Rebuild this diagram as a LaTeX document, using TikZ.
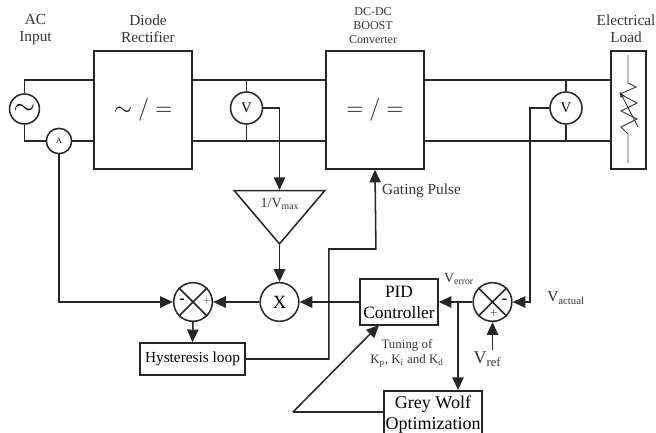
\documentclass[tikz,border=0pt]{standalone}
\usepackage{amsmath, amssymb}
\usepackage{fontspec}
\setmainfont{Liberation Serif}
\usetikzlibrary{arrows.meta, positioning, shapes, calc}
\tikzset{
    wire/.style={line width=1.15pt, draw=black!85},
    sig/.style={wire, -{Triangle[length=9.5pt, width=8.5pt]}},
    block/.style={rectangle, draw=black!85, line width=1.15pt, inner sep=0pt},
    meter/.style={circle, draw=black!85, line width=1.15pt, fill=white, inner sep=0pt},
    lbl/.style={text=black!80, align=center, inner sep=0pt, font=\fontsize{11.5}{12.75}\selectfont}
}
\begin{document}
\begin{tikzpicture}[x=0.75pt, y=-0.75pt]
    \useasboundingbox (0,0) rectangle (656,432);
    \clip (0,0) rectangle (656,432);

    % Power stage blocks
    \node (rect) [block, minimum width=73.5pt, minimum height=88.5pt] at (143,110) {\fontsize{18.5}{22}\selectfont $\sim/=$};
    \node (boost) [block, minimum width=73.5pt, minimum height=88.5pt] at (375,110) {\fontsize{18.5}{22}\selectfont $=/=$};
    \node (load) [block, minimum width=26.25pt, minimum height=88.5pt] at (628.5,110) {};

    % Meters and source
    \node (src) [meter, minimum size=22.5pt] at (24.5,109) {\fontsize{20}{20}\selectfont $\sim$};
    \node (amp) [meter, minimum size=19pt] at (59,141) {\fontsize{6}{7}\selectfont A};
    \node (vin) [meter, minimum size=24pt] at (246.5,108) {\fontsize{11}{12}\selectfont V};
    \node (vout) [meter, minimum size=24pt] at (566,108) {\fontsize{11}{12}\selectfont V};

    % Control blocks
    \node (gain) [isosceles triangle, shape border rotate=-90, isosceles triangle apex angle=81, isosceles triangle stretches, draw=black!85, line width=1.15pt, minimum width=68pt, minimum height=40pt, inner sep=0pt] at (279.5,211.5) {};
    \node (gainlbl) [lbl, font=\fontsize{10.5}{12}\selectfont] at (280,204) {1/V\textsubscript{max}};
    \node (mult) [meter, minimum size=29pt] at (279.5,302) {\fontsize{14}{16}\selectfont X};
    \node (sumA) [meter, minimum size=29pt] at (193,302) {};
    \node (sumB) [meter, minimum size=29pt] at (492.5,302) {};
    \node (hyst) [block, minimum width=79pt, minimum height=24pt, font=\fontsize{11.5}{13}\selectfont] at (192.5,359) {Hysteresis loop};
    \node (pid) [block, minimum width=58.5pt, minimum height=34.5pt, align=center, font=\fontsize{13}{15.75}\selectfont] at (399,302) {PID\\Controller};
    \node (gwo) [block, minimum width=73.5pt, minimum height=36pt, align=center, font=\fontsize{13.5}{15.5}\selectfont, anchor=north] at (433,390) {Grey Wolf\\Optimization};

    % Free ends
    \coordinate (topL) at (24.5,80);
    \coordinate (botL) at (24.5,141);
    \coordinate (tune) at (293,412);
    \coordinate (vref) at (492.5,350);
    \coordinate (gaintop) at (279.5,190);
    \coordinate (branch) at (458,302);

    % Power wiring
    \draw[wire] (src.north) -- (topL) -- (rect.west |- topL);
    \draw[wire] (src.south) -- (botL) -- (amp.west);
    \draw[wire] (amp.east) -- (rect.west |- amp.east);
    \draw[wire] (rect.east |- topL) -- (boost.west |- topL);
    \draw[wire] (rect.east |- botL) -- (boost.west |- botL);
    \draw[wire] (boost.east |- topL) -- (load.west |- topL);
    \draw[wire] (boost.east |- botL) -- (load.west |- botL);
    \draw[wire] (vin.north) -- (vin.north |- topL);
    \draw[wire] (vin.south) -- (vin.south |- botL);
    \draw[wire] (vout.north) -- (vout.north |- topL);
    \draw[wire] (vout.south) -- (vout.south |- botL);

    % Load resistor
    \draw[line width=0.7pt, draw=black!75] (628,55) -- (628,83) -- (636,87) -- (620,94) -- (637,103) -- (621,111) -- (637,119) -- (621,127) -- (628,134) -- (628,163);
    \draw[line width=0.6pt, draw=black!85, -{Triangle[length=4pt, width=3pt]}] (638,127) -- (620,92);

    % Signal paths
    \draw[sig] (vin.east) -| (gaintop);
    \draw[sig] (gain.south) -- (mult.north);
    \draw[sig] (amp.south) |- (sumA.west);
    \draw[sig] (mult.west) -- (sumA.east);
    \draw[sig] (pid.west) -- (mult.east);
    \draw[sig] (sumA.south) -- (hyst.north);
    \draw[sig] (hyst.east) -- ++(83,0) -- ++(0,-110) -- ++(47,0) -- (boost.south);
    \draw[sig] (sumB.west) -- (pid.east);
    \draw[sig] (vout.west) -| ++(-19,0) |- (sumB.east);
    \draw[sig] (vref) -- (sumB.south);
    \draw[sig] (branch) -- (branch |- gwo.north);
    \draw[wire] (gwo.west |- tune) -- (tune);
    \draw[sig] (tune) -- (379,325);

    % Summing junction crosses
    \foreach \s in {sumA, sumB} {
        \draw[wire] (\s.45) -- (\s.225);
        \draw[wire] (\s.135) -- (\s.315);
    }
    \node (sumAm) [inner sep=0pt, font=\bfseries\fontsize{12}{12}\selectfont] at (182,301) {-};
    \node (sumAp) [inner sep=0pt, text=black!60, font=\fontsize{10}{12}\selectfont] at (207,302) {+};
    \node (sumBm) [inner sep=0pt, font=\bfseries\fontsize{12}{12}\selectfont] at (504.5,301) {-};
    \node (sumBp) [inner sep=0pt, text=black!70, font=\fontsize{10}{12}\selectfont] at (494,314) {+};

    % Labels
    \node (lac) [lbl] at (35.5,30) {AC\\Input};
    \node (ldr) [lbl] at (148,29) {Diode\\Rectifier};
    \node (ldc) [lbl, font=\fontsize{9}{10.5}\selectfont] at (373,26) {DC-DC\\BOOST\\Converter};
    \node (lel) [lbl] at (626,29) {Electrical\\Load};
    \node (lgp) [lbl, font=\fontsize{11.5}{13}\selectfont] at (421.5,191) {Gating Pulse};
    \node (lve) [lbl, font=\fontsize{10.5}{12}\selectfont] at (459,279) {V\textsubscript{error}};
    \node (lva) [lbl, font=\fontsize{11.5}{13}\selectfont] at (566,298) {V\textsubscript{actual}};
    \node (lvr) [lbl, font=\fontsize{13.5}{15}\selectfont] at (487.5,359) {V\textsubscript{ref}};
    \node (ltu) [lbl, font=\fontsize{9.7}{11.25}\selectfont] at (407,353) {Tuning of\\K\textsubscript{p}, K\textsubscript{i} and K\textsubscript{d}};
\end{tikzpicture}
\end{document}
